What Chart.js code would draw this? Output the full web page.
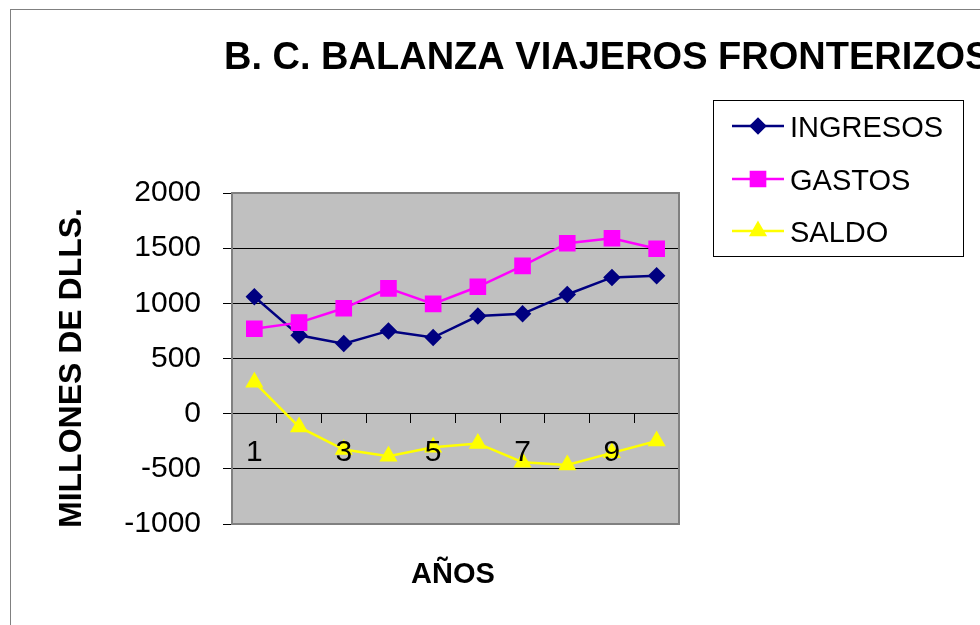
<!DOCTYPE html>
<html><head><meta charset="utf-8">
<script src="https://cdn.jsdelivr.net/npm/chart.js@4/dist/chart.umd.min.js"></script>
<style>html,body{margin:0;padding:0;background:#fff;overflow:hidden}canvas{display:block}</style>
</head><body>
<canvas id="c" width="980" height="625"></canvas>
<script>
const years = ['1','2','3','4','5','6','7','8','9','10'];
const ingresos = [1060, 710, 635, 750, 690, 885, 905, 1080, 1235, 1250];
const gastos = [770, 825, 955, 1135, 995, 1150, 1340, 1545, 1590, 1495];
const saldo = [285, -120, -325, -385, -305, -270, -440, -465, -355, -248];
const yMin = -1000, yMax = 2000, yStep = 500;
const seriesNames = ['INGRESOS', 'GASTOS', 'SALDO'];
const titleText = 'B. C. BALANZA VIAJEROS FRONTERIZOS';
const yTitleText = 'MILLONES DE DLLS.';
const xTitleText = 'AÑOS';

const FONT = '"Liberation Sans", Arial, Helvetica, sans-serif';

const deco = {
  id: 'deco',
  beforeDraw(chart) {
    const {ctx, chartArea: a} = chart;
    ctx.save();
    ctx.fillStyle = '#fff';
    ctx.fillRect(0, 0, chart.width, chart.height);
    ctx.strokeStyle = '#808080';
    ctx.lineWidth = 1;
    ctx.strokeRect(10.5, 9.5, 2000, 2000);
    ctx.fillStyle = '#C0C0C0';
    ctx.fillRect(a.left, a.top, a.right - a.left, a.bottom - a.top);
    ctx.restore();
  },
  beforeDatasetsDraw(chart) {
    const {ctx, chartArea: a} = chart;
    ctx.save();
    ctx.strokeStyle = '#808080';
    ctx.lineWidth = 2;
    ctx.strokeRect(a.left, a.top, a.right - a.left, a.bottom - a.top);
    ctx.restore();
  },
  afterDraw(chart) {
    const {ctx} = chart;
    ctx.save();
    ctx.fillStyle = '#000';
    ctx.font = 'bold 38px ' + FONT;
    ctx.textAlign = 'left';
    ctx.textBaseline = 'alphabetic';
    ctx.fillText(titleText, 224, 69);
    ctx.font = 'bold 29px ' + FONT;
    ctx.textAlign = 'center';
    ctx.fillText(xTitleText, 453, 583);
    ctx.save();
    ctx.translate(81, 368);
    ctx.rotate(-Math.PI / 2);
    ctx.font = 'bold 32px ' + FONT;
    ctx.textAlign = 'center';
    ctx.fillText(yTitleText, 0, 0);
    ctx.restore();
    ctx.strokeStyle = '#000';
    ctx.lineWidth = 1;
    ctx.strokeRect(713.5, 100.5, 250, 156);
    const rows = [126, 179, 231];
    chart.data.datasets.forEach((ds, i) => {
      const y = rows[i];
      ctx.strokeStyle = ds.borderColor;
      ctx.lineWidth = ds.borderWidth;
      ctx.beginPath(); ctx.moveTo(732, y); ctx.lineTo(784, y); ctx.stroke();
      ctx.fillStyle = ds.pointBackgroundColor;
      ctx.strokeStyle = ds.pointBorderColor;
      Chart.helpers.drawPoint(ctx, {pointStyle: ds.pointStyle, radius: ds.pointRadius, rotation: 0, borderWidth: 1}, 758, y);
      ctx.fillStyle = '#000';
      ctx.font = '29px ' + FONT;
      ctx.textAlign = 'left';
      ctx.textBaseline = 'alphabetic';
      ctx.fillText(ds.label, 790, y + 10.5);
    });
    ctx.restore();
  }
};

new Chart(document.getElementById('c'), {
  type: 'line',
  data: {
    labels: years,
    datasets: [
      {label: seriesNames[0], data: ingresos, borderColor: '#000080', backgroundColor: '#000080',
       pointBackgroundColor: '#000080', pointBorderColor: '#000080', pointStyle: 'rectRot', pointRadius: 7,
       borderWidth: 2.5, tension: 0, order: 3},
      {label: seriesNames[1], data: gastos, borderColor: '#FF00FF', backgroundColor: '#FF00FF',
       pointBackgroundColor: '#FF00FF', pointBorderColor: '#FF00FF', pointStyle: 'rect', pointRadius: 10,
       borderWidth: 2.5, tension: 0, order: 2},
      {label: seriesNames[2], data: saldo, borderColor: '#FFFF00', backgroundColor: '#FFFF00',
       pointBackgroundColor: '#FFFF00', pointBorderColor: '#FFFF00', pointStyle: 'triangle', pointRadius: 8,
       borderWidth: 2.5, tension: 0, order: 1}
    ]
  },
  options: {
    responsive: false,
    animation: false,
    devicePixelRatio: 1,
    layout: {padding: {left: 0, right: 301, top: 193, bottom: 101}},
    plugins: {legend: {display: false}, title: {display: false}, tooltip: {enabled: false}},
    scales: {
      x: {
        type: 'category',
        offset: true,
        position: {y: 0},
        grid: {display: true, drawOnChartArea: false, drawTicks: true, tickLength: 9, tickColor: '#000', offset: true, lineWidth: 1},
        border: {display: true, color: '#000', width: 1},
        ticks: {
          z: 1,
          autoSkip: false, maxRotation: 0, minRotation: 0, padding: 12, color: '#000',
          font: {family: FONT, size: 30},
          callback: function (v, i) { return i % 2 === 0 ? this.getLabelForValue(v) : ''; }
        }
      },
      y: {
        min: yMin, max: yMax,
        afterFit(s) { s.width = 232; },
        grid: {color: '#000', lineWidth: 1, drawTicks: true, tickLength: 9, tickColor: '#000'},
        border: {display: false},
        ticks: {stepSize: yStep, padding: 22, color: '#000', font: {family: FONT, size: 30},
          callback: v => String(v)}
      }
    }
  },
  plugins: [deco]
});
</script>
</body></html>
